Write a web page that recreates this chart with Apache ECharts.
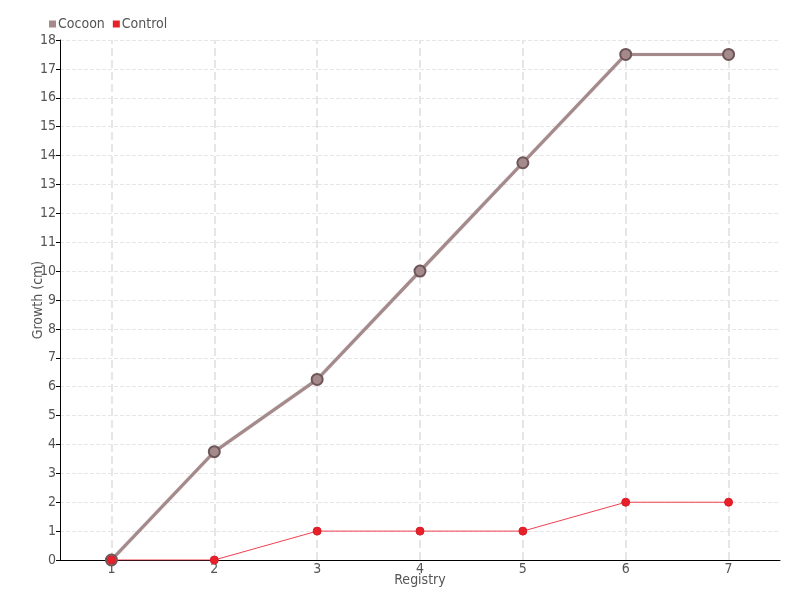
<!DOCTYPE html>
<html><head><meta charset="utf-8">
<script src="https://cdn.jsdelivr.net/npm/echarts@6/dist/echarts.min.js"></script>
<style>html,body{margin:0;padding:0;background:#fff}#c{width:800px;height:600px}</style>
</head><body><div id="c"></div>
<script>
const categories = ['1','2','3','4','5','6','7'];
const cocoon = [0, 3.75, 6.25, 10, 13.75, 17.5, 17.5];
const control = [0, 0, 1, 1, 1, 2, 2];
const FONT = '"DejaVu Sans Condensed", "Liberation Sans Narrow", sans-serif';
const chart = echarts.init(document.getElementById('c'));
chart.setOption({
  backgroundColor: '#fff',
  textStyle: {fontFamily: FONT},
  legend: {
    left: 44, top: 12, itemWidth: 7, itemHeight: 7, itemGap: 8,
    icon: 'rect',
    itemStyle: {borderWidth: 0},
    textStyle: {fontFamily: FONT, fontSize: 14, color: '#555', padding: [0,0,0,-3]},
    data: ['Cocoon', 'Control']
  },
  grid: {left: 60, right: 20, top: 40, bottom: 40},
  xAxis: {
    type: 'category', data: categories, boundaryGap: true,
    name: 'Registry', nameLocation: 'middle', nameGap: 13, nameMoveOverlap: false,
    nameTextStyle: {fontFamily: FONT, fontSize: 14, color: '#555'},
    axisLine: {lineStyle: {color: '#000', width: 1}},
    axisTick: {alignWithLabel: true, length: 5, lineStyle: {color: '#333'}},
    axisLabel: {margin: 2, fontFamily: FONT, fontSize: 14, color: '#555'},
    splitLine: {show: false}
  },
  yAxis: {
    type: 'value', min: 0, max: 18, interval: 1,
    name: 'Growth (cm)', nameLocation: 'middle', nameGap: 15, nameMoveOverlap: false,
    nameTextStyle: {fontFamily: FONT, fontSize: 14, color: '#555'},
    axisLine: {show: true, lineStyle: {color: '#000', width: 1}},
    axisTick: {show: true, length: 4, lineStyle: {color: '#000'}},
    axisLabel: {margin: 4, fontFamily: FONT, fontSize: 14, color: '#555'},
    splitLine: {lineStyle: {type: 'dashed', color: '#e6e6e6', width: 1}}
  },
  series: [
    {
      name: 'Cocoon', type: 'line', data: cocoon,
      symbol: 'circle', symbolSize: 11,
      itemStyle: {color: '#a58a8c', borderColor: '#6e5558', borderWidth: 2},
      lineStyle: {color: '#a58a8c', width: 3, shadowColor: 'rgba(90,60,60,0.5)', shadowBlur: 1},
      markLine: {
        silent: true, symbol: 'none', label: {show: false},
        lineStyle: {type: 'dashed', color: '#e6e6e6', width: 2},
        data: categories.map(c => ({xAxis: c})),
        z: 0
      },
      z: 2
    },
    {
      name: 'Control', type: 'line', data: control,
      symbol: 'circle', symbolSize: 8,
      itemStyle: {color: '#e8202a', borderColor: '#d81e28', borderWidth: 1},
      lineStyle: {color: '#f04050', width: 1},
      z: 3
    }
  ]
});
</script></body></html>
